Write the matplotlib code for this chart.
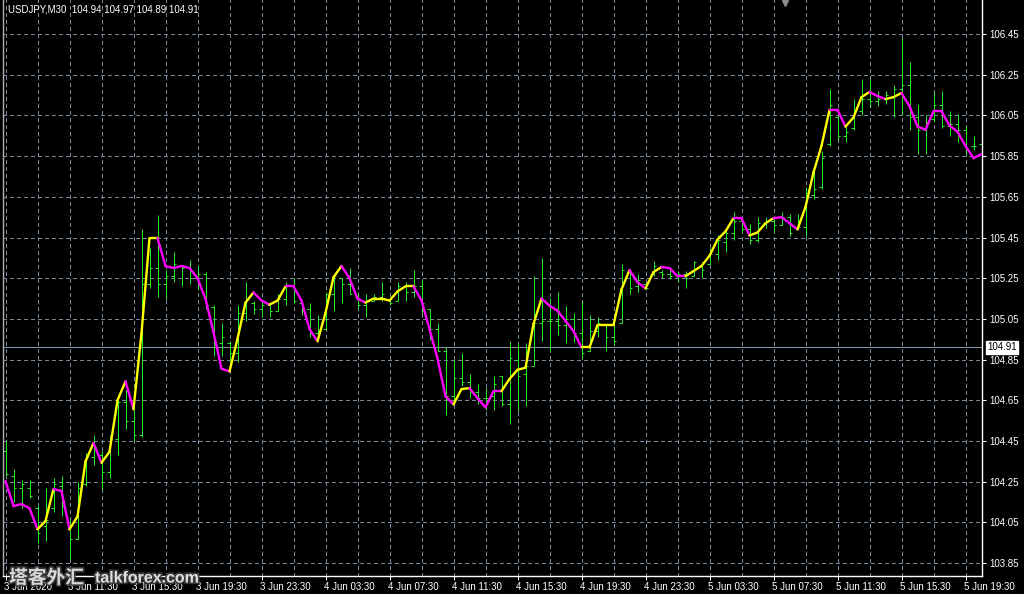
import matplotlib
matplotlib.use("Agg")
import matplotlib.pyplot as plt
from matplotlib.collections import LineCollection
from matplotlib.lines import Line2D
import matplotlib.transforms as mtransforms
import matplotlib.patheffects as pe
import numpy as np

symbol_header = "USDJPY,M30  104.94 104.97 104.89 104.91"
current_price = 104.91
watermark_cn = "塔客外汇"
watermark_en = "talkforex.com"

bar_high = [104.45, 104.31, 104.26, 104.26, 104.13, 104.22, 104.27, 104.28, 104.06, 104.25,
            104.39, 104.48, 104.40, 104.48, 104.66, 104.70, 104.65, 105.49, 105.40, 105.56,
            105.29, 105.38, 105.31, 105.34, 105.31, 105.28, 105.12, 105.03, 104.94, 105.12,
            105.23, 105.14, 105.14, 105.13, 105.17, 105.23, 105.25, 105.13, 105.13, 105.07,
            105.18, 105.27, 105.25, 105.30, 105.18, 105.17, 105.17, 105.23, 105.15, 105.23,
            105.23, 105.29, 105.24, 105.10, 105.03, 104.91, 104.85, 104.88, 104.78, 104.73,
            104.71, 104.77, 104.77, 104.94, 104.93, 104.93, 105.26, 105.35, 105.155, 105.18,
            105.115, 105.08, 105.14, 105.07, 105.06, 105.02, 105.07, 105.32, 105.29, 105.27,
            105.23, 105.335, 105.29, 105.30, 105.285, 105.285, 105.335, 105.33, 105.40, 105.46,
            105.48, 105.577, 105.55, 105.515, 105.55, 105.55, 105.54, 105.577, 105.565, 105.565,
            105.70, 105.78, 105.875, 106.18, 106.05, 106.00, 106.13, 106.23, 106.23, 106.17,
            106.17, 106.20, 106.43, 106.31, 106.105, 106.05, 106.165, 106.17, 106.07, 106.055,
            106.00, 105.95, 105.94]
bar_low = [104.28, 104.15, 104.12, 104.17, 103.95, 103.96, 104.10, 104.08, 103.87, 103.97,
           104.23, 104.33, 104.21, 104.27, 104.38, 104.51, 104.45, 104.47, 105.20, 105.16,
           105.15, 105.23, 105.21, 105.22, 105.19, 105.10, 104.87, 104.87, 104.84, 104.84,
           105.04, 105.075, 105.06, 105.06, 105.09, 105.12, 105.13, 105.07, 104.96, 104.95,
           105.00, 105.09, 105.13, 105.17, 105.10, 105.06, 105.14, 105.14, 105.12, 105.14,
           105.14, 105.16, 105.075, 104.945, 104.89, 104.58, 104.63, 104.72, 104.66, 104.63,
           104.60, 104.60, 104.62, 104.535, 104.595, 104.62, 104.82, 104.94, 104.89, 104.97,
           104.93, 104.935, 104.86, 104.89, 104.96, 104.89, 104.92, 105.03, 105.17, 105.18,
           105.19, 105.26, 105.25, 105.245, 105.23, 105.20, 105.26, 105.25, 105.32, 105.34,
           105.38, 105.44, 105.475, 105.42, 105.43, 105.495, 105.475, 105.51, 105.455, 105.49,
           105.458, 105.64, 105.69, 105.90, 105.93, 105.92, 105.98, 106.05, 106.09, 106.095,
           106.105, 106.04, 106.05, 105.98, 105.86, 105.86, 106.02, 105.99, 105.95, 105.92,
           105.855, 105.88, 105.85]
bar_open = [104.40, 104.28, 104.22, 104.22, 104.12, 104.03, 104.12, 104.23, 104.02, 103.97,
            104.24, 104.37, 104.38, 104.30, 104.46, 104.64, 104.55, 104.48, 105.22, 105.30,
            105.22, 105.26, 105.31, 105.30, 105.25, 105.27, 105.11, 104.93, 104.93, 104.88,
            105.08, 105.13, 105.10, 105.12, 105.09, 105.15, 105.21, 105.13, 105.10, 104.98,
            105.00, 105.17, 105.25, 105.22, 105.16, 105.12, 105.14, 105.16, 105.15, 105.14,
            105.21, 105.18, 105.21, 105.10, 105.00, 104.89, 104.67, 104.76, 104.74, 104.69,
            104.66, 104.67, 104.77, 104.63, 104.85, 104.78, 104.82, 105.03, 105.04, 105.04,
            105.02, 105.05, 104.98, 104.89, 104.99, 105.02, 104.96, 105.03, 105.28, 105.21,
            105.22, 105.27, 105.28, 105.27, 105.26, 105.27, 105.26, 105.31, 105.32, 105.37,
            105.43, 105.47, 105.53, 105.49, 105.44, 105.52, 105.53, 105.51, 105.55, 105.49,
            105.50, 105.66, 105.70, 105.91, 106.04, 105.95, 105.99, 106.07, 106.13, 106.12,
            106.13, 106.14, 106.18, 106.20, 106.04, 105.98, 106.03, 106.10, 106.00, 106.01,
            105.98, 105.90, 105.91]
bar_close = [104.29, 104.22, 104.24, 104.18, 104.00, 104.06, 104.24, 104.13, 103.97, 104.22,
             104.37, 104.42, 104.30, 104.46, 104.64, 104.55, 104.48, 105.22, 105.30, 105.22,
             105.26, 105.32, 105.30, 105.25, 105.27, 105.12, 104.93, 104.96, 104.88, 105.08,
             105.15, 105.10, 105.12, 105.09, 105.15, 105.21, 105.14, 105.10, 104.98, 104.99,
             105.17, 105.26, 105.22, 105.17, 105.12, 105.14, 105.16, 105.17, 105.13, 105.21,
             105.18, 105.21, 105.13, 105.00, 104.89, 104.67, 104.76, 104.74, 104.69, 104.66,
             104.66, 104.73, 104.63, 104.86, 104.77, 104.82, 105.03, 105.04, 105.04, 105.02,
             105.05, 104.98, 104.88, 104.99, 105.03, 104.96, 104.94, 105.29, 105.20, 105.24,
             105.20, 105.31, 105.27, 105.26, 105.27, 105.25, 105.33, 105.29, 105.37, 105.44,
             105.47, 105.53, 105.49, 105.44, 105.52, 105.53, 105.51, 105.55, 105.47, 105.50,
             105.66, 105.69, 105.84, 106.10, 105.95, 105.97, 106.07, 106.13, 106.12, 106.13,
             106.15, 106.18, 106.20, 106.04, 105.98, 106.02, 106.10, 106.00, 106.01, 105.98,
             105.88, 105.90, 105.88]
ma_values = [104.253, 104.13, 104.14, 104.12, 104.016, 104.057, 104.214, 104.204, 104.016, 104.079,
             104.35, 104.44, 104.343, 104.397, 104.65, 104.743, 104.606, 104.98, 105.447, 105.447,
             105.31, 105.30, 105.31, 105.30, 105.25, 105.148, 104.985, 104.805, 104.792, 104.952,
             105.13, 105.18, 105.14, 105.12, 105.14, 105.21, 105.21, 105.14, 105.00, 104.94,
             105.08, 105.255, 105.31, 105.25, 105.15, 105.13, 105.15, 105.15, 105.14, 105.185,
             105.21, 105.21, 105.14, 105.00, 104.855, 104.67, 104.63, 104.705, 104.71, 104.66,
             104.615, 104.695, 104.695, 104.755, 104.80, 104.81, 105.025, 105.15, 105.115, 105.09,
             105.04, 104.99, 104.91, 104.91, 105.02, 105.02, 105.02, 105.195, 105.29, 105.23,
             105.20, 105.28, 105.305, 105.30, 105.26, 105.26, 105.285, 105.31, 105.36, 105.44,
             105.48, 105.545, 105.545, 105.46, 105.475, 105.52, 105.545, 105.55, 105.52, 105.49,
             105.60, 105.77, 105.90, 106.077, 106.077, 105.995, 106.04, 106.14, 106.165, 106.145,
             106.13, 106.14, 106.16, 106.095, 105.995, 105.98, 106.07, 106.07, 106.00, 105.97,
             105.90, 105.84, 105.86]
# indicator state of each MA segment: u = up (yellow), d = down (magenta)
ma_trend = ("dddduudduu" "uduuuduuud" "dddddddduu" "udduuddddu" "uuddduuuuu"
            "uddddduudd" "dduuuuuddd" "dduuuuuudd" "uuddduuuuu" "udduuudddu"
            "uuudduuudd" "uudddddddddd")

x_tick_bars = list(range(0, 121, 8))
x_tick_labels = ["3 Jun 2020", "3 Jun 11:30", "3 Jun 15:30", "3 Jun 19:30", "3 Jun 23:30",
                 "4 Jun 03:30", "4 Jun 07:30", "4 Jun 11:30", "4 Jun 15:30", "4 Jun 19:30",
                 "4 Jun 23:30", "5 Jun 03:30", "5 Jun 07:30", "5 Jun 11:30", "5 Jun 15:30",
                 "5 Jun 19:30"]
y_ticks = [103.85, 104.05, 104.25, 104.45, 104.65, 104.85, 105.05, 105.25,
           105.45, 105.65, 105.85, 106.05, 106.25, 106.45]

plt.rcParams['font.family'] = ['Liberation Sans', 'DejaVu Sans']
W, H = 1024, 594
fig = plt.figure(figsize=(W / 100, H / 100), dpi=100, facecolor='black')
ax_left, ax_right, ax_bottom = 3, 982, 575.5
ax = fig.add_axes([ax_left / W, (H - ax_bottom) / H, (ax_right - ax_left) / W, ax_bottom / H])
ax.set_facecolor('black')

px_per_bar = 8.0
first_bar_px = 5.5
ax.set_xlim((ax_left - first_bar_px) / px_per_bar, (ax_right - first_bar_px) / px_per_bar)
px_per_price = 203.5
ax.set_ylim(106.45 - (ax_bottom - 34) / px_per_price, 106.45 + 34 / px_per_price)

one_px = 0.72  # one pixel in points at 100 dpi
grid_col = '#778899'
ax.set_xticks(x_tick_bars)
ax.set_xticks(list(range(0, 123, 4)), minor=True)
ax.set_xticklabels(x_tick_labels)
ax.set_yticks(y_ticks)
ax.set_yticklabels([f"{v:.2f}" for v in y_ticks])
ax.yaxis.tick_right()
ax.grid(True, which='both', axis='x', color=grid_col, lw=one_px, linestyle=(0, (3, 3)),
        antialiased=False)
ax.grid(True, which='major', axis='y', color=grid_col, lw=one_px, linestyle=(0, (3, 3)),
        antialiased=False)
ax.set_axisbelow(True)
ax.tick_params(axis='both', which='major', colors='white', labelcolor='white',
               labelsize=7, length=3, width=one_px)
ax.tick_params(axis='x', which='major', pad=1.5)
ax.tick_params(axis='y', which='major', pad=2)
ax.tick_params(axis='x', which='minor', length=0)
offset = mtransforms.ScaledTranslation(-2 / 100, 0, fig.dpi_scale_trans)
for lab in ax.get_xticklabels():
    lab.set_ha('left')
    lab.set_transform(lab.get_transform() + offset)

for side in ['bottom', 'right']:
    ax.spines[side].set_color('white')
    ax.spines[side].set_linewidth(1.0)
ax.spines['left'].set_color('#b0b0b0')
ax.spines['left'].set_linewidth(1.0)
ax.spines['top'].set_visible(False)

# current price line
ax.axhline(current_price, color='#8497a8', lw=one_px, zorder=1, antialiased=False)

# OHLC bars
bar_col = '#26ea26'
n = len(bar_high)
idx = np.arange(n)
ax.vlines(idx, bar_low, bar_high, color=bar_col, lw=one_px, zorder=2)
ax.hlines(bar_open, idx - 0.3, idx, color=bar_col, lw=one_px, zorder=2)
ax.hlines(bar_close, idx, idx + 0.3, color=bar_col, lw=one_px, zorder=2)

# colored moving average
pts = np.column_stack([idx, ma_values])
segs = np.stack([pts[:-1], pts[1:]], axis=1)
cols = ['#ffff00' if t == 'u' else '#ff00ff' for t in ma_trend]
lc = LineCollection(segs, colors=cols, linewidths=1.7, zorder=3, capstyle='round')
ax.add_collection(lc)

# price label on axis
ax.annotate(f"{current_price:.2f}", xy=(1, current_price), xycoords=('axes fraction', 'data'),
            xytext=(4, 0), textcoords='offset points', va='center', ha='left',
            fontsize=7, color='black',
            bbox=dict(boxstyle='square,pad=0.12', fc='white', ec='white'), annotation_clip=False)

# header
fig.text(8 / W, 1 - 10 / H, symbol_header, color='white', fontsize=7, va='center', ha='left')
# chart shift marker
fig.add_artist(Line2D([785 / W], [1 - 3 / H], marker='v', color='#8a8a8a', markersize=5,
                      transform=fig.transFigure, linestyle='none'))

# watermark (overlays the first axis labels, as in the original screenshot)
wm_fx = [pe.withStroke(linewidth=2.5, foreground='#3a3a3a')]
fig.text(9 / W, 1 - 578 / H, watermark_cn, color='#e8e8e8', alpha=0.9, fontsize=13.5,
         fontweight='bold', family=['Noto Sans CJK SC', 'DejaVu Sans'],
         va='center', ha='left', path_effects=wm_fx, zorder=10)
fig.text(95 / W, 1 - 578 / H, watermark_en, color='#f0f0f0', alpha=0.9, fontsize=11.5,
         fontweight='bold', family=['Liberation Sans', 'DejaVu Sans'],
         va='center', ha='left', path_effects=wm_fx, zorder=10)

fig.savefig('out.png', dpi=100, facecolor='black')
